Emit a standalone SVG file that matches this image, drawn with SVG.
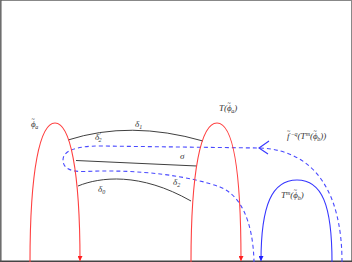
<svg xmlns="http://www.w3.org/2000/svg" width="352" height="262" viewBox="0 0 352 262">
<style>
.red{fill:none;stroke:#ff4040;stroke-width:1.1}
.blue{fill:none;stroke:#3636ff;stroke-width:1.1}
.dash{fill:none;stroke:#4a4aff;stroke-width:1.1;stroke-dasharray:4 3}
.blk{fill:none;stroke:#404040;stroke-width:1}
text{font-family:"Liberation Serif","DejaVu Serif",serif;font-style:italic;font-size:9px;fill:#333}
.s{font-size:6px}
.t{font-size:6px;font-style:normal}
</style>
<defs>
<marker id="ar" viewBox="0 0 8 8" refX="8" refY="4" markerWidth="5" markerHeight="5" orient="auto" markerUnits="userSpaceOnUse"><path d="M0,0 L8,4 L0,8 z" fill="#ff2020"/></marker>
<marker id="ab" viewBox="0 0 8 8" refX="8" refY="4" markerWidth="5" markerHeight="5" orient="auto" markerUnits="userSpaceOnUse"><path d="M0,0 L8,4 L0,8 z" fill="#2020ff"/></marker>
</defs>
<rect x="0.5" y="0.5" width="351" height="261" fill="#fff" stroke="#888" stroke-width="1"/>
<line x1="0" y1="261.3" x2="352" y2="261.3" stroke="#444" stroke-width="1.4"/>
<line x1="1" y1="0" x2="1" y2="262" stroke="#555" stroke-width="1"/>
<g id="connectors">
<path id="delta1" class="blk" d="M68,140 Q130,120 203,141"/>
<path id="sigma" class="blk" d="M76,160.5 L197,166"/>
<path id="delta0" class="blk" d="M78,186 C100,177 140,172 191,201"/>
<path id="dashed" class="dash" d="M342,262 C342,200 320,150 259,148 L100,146 C75,146 63,151 63,160 C63,169 72,172 85,171.5 C140,169 190,176 220,187 C240,195 253,220 254,262"/>
<polyline class="blue" points="269,141 259,148 268,154"/>
</g>
<g id="phi_a">
<path class="red" d="M30,262 C30,170 40,123 55,123 C70,123 80,170 80,261" marker-end="url(#ar)"/>
<text x="31" y="127">ϕ<tspan class="t" dx="-4.2" dy="-6">~</tspan><tspan class="s" dx="0.6" dy="8">a</tspan></text>
</g>
<g id="T_phi_a">
<path class="red" d="M191,262 C191,170 201,123 217,123 C233,123 241,170 241,261" marker-end="url(#ar)"/>
<text x="219" y="111">T(ϕ<tspan class="t" dx="-4.2" dy="-6">~</tspan><tspan class="s" dx="0.6" dy="8">a</tspan><tspan dy="-2">)</tspan></text>
</g>
<g id="Tm_phi_b">
<path class="blue" d="M332,262 C332,205 322,180 297,180 C272,180 261,205 261,261" marker-end="url(#ab)"/>
<text x="281" y="198">T<tspan class="s" dy="-3">m</tspan><tspan dy="3">(ϕ</tspan><tspan class="t" dx="-4.2" dy="-6">~</tspan><tspan class="s" dx="0.6" dy="8">b</tspan><tspan dy="-2">)</tspan></text>
</g>
<g id="labels">
<text x="287" y="139">f<tspan class="t" dx="-2.6" dy="-6.5">~</tspan><tspan class="s" dx="0.3" dy="3.5">−q</tspan><tspan dy="3">(T</tspan><tspan class="s" dy="-3">m</tspan><tspan dy="3">(ϕ</tspan><tspan class="t" dx="-4.2" dy="-6">~</tspan><tspan class="s" dx="0.6" dy="8">b</tspan><tspan dy="-2">))</tspan></text>
<text x="135" y="127">δ<tspan class="s" dy="2">1</tspan></text>
<text x="95" y="140">δ<tspan class="s" dy="-3">′</tspan><tspan class="s" dx="-2" dy="5">2</tspan></text>
<text x="180" y="159">σ</text>
<text x="173" y="185">δ<tspan class="s" dy="2">2</tspan></text>
<text x="98" y="192">δ<tspan class="s" dy="2">0</tspan></text>
</g>
</svg>
